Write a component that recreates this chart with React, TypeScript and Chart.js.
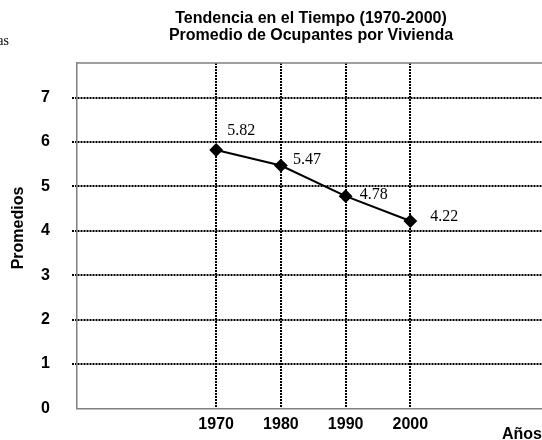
import React, { useEffect, useRef } from "react";
import { Chart, registerables } from "chart.js";

Chart.register(...registerables);

const years = [1970, 1980, 1990, 2000];
const promedios = [5.82, 5.47, 4.78, 4.22];
const yTicks = [0, 1, 2, 3, 4, 5, 6, 7];
const titleLines = ["Tendencia en el Tiempo (1970-2000)", "Promedio de Ocupantes por Vivienda"];
const yTitle = "Promedios";
const xTitle = "Años";
const cornerText = "as";

const SANS = "Arial, 'Liberation Sans', sans-serif";
const SERIF = "'Times New Roman', 'Liberation Serif', serif";

const labelOffsets = [
  [11, -19],
  [12, -6],
  [14, -1],
  [20, -4],
];

const decorPlugin = {
  id: "decor",
  beforeDatasetsDraw(chart: any) {
    const { ctx, chartArea } = chart;
    ctx.save();
    ctx.strokeStyle = "#808080";
    ctx.lineWidth = 1.5;
    ctx.beginPath();
    ctx.moveTo(chartArea.left, chartArea.top);
    ctx.lineTo(chartArea.right, chartArea.top);
    ctx.stroke();
    ctx.restore();
  },
  afterDraw(chart: any) {
    const { ctx } = chart;
    const meta = chart.getDatasetMeta(0);
    ctx.save();
    ctx.fillStyle = "#000";
    ctx.font = `bold 16px ${SANS}`;
    ctx.textAlign = "center";
    ctx.textBaseline = "alphabetic";
    ctx.fillText(titleLines[0], 311, 22.5);
    ctx.fillText(titleLines[1], 311, 40);
    ctx.font = `16px ${SERIF}`;
    ctx.textAlign = "left";
    ctx.textBaseline = "middle";
    meta.data.forEach((pt: any, i: number) => {
      const off = labelOffsets[i] || [12, -5];
      ctx.fillText(promedios[i].toFixed(2), pt.x + off[0], pt.y + off[1]);
    });
    ctx.save();
    ctx.font = `bold 16px ${SANS}`;
    ctx.translate(18.5, 228);
    ctx.rotate(-Math.PI / 2);
    ctx.textAlign = "center";
    ctx.textBaseline = "middle";
    ctx.fillText(yTitle, 0, 0);
    ctx.restore();
    ctx.font = `bold 16px ${SANS}`;
    ctx.textAlign = "left";
    ctx.textBaseline = "alphabetic";
    ctx.fillText(xTitle, 502, 439);
    ctx.font = `14px ${SERIF}`;
    ctx.textAlign = "right";
    ctx.fillText(cornerText, 9, 45);
    ctx.restore();
  },
};

export default function App() {
  const ref = useRef<HTMLCanvasElement | null>(null);

  useEffect(() => {
    if (!ref.current) return;
    const chart = new Chart(ref.current, {
      type: "line",
      data: {
        datasets: [
          {
            data: years.map((y, i) => ({ x: y, y: promedios[i] })),
            borderColor: "#000",
            backgroundColor: "#000",
            borderWidth: 2,
            pointStyle: "rectRot",
            pointRadius: 5.5,
            pointBackgroundColor: "#000",
            pointBorderColor: "#000",
            tension: 0,
          },
        ],
      },
      options: {
        responsive: false,
        animation: false,
        layout: { padding: { top: 63, right: 15, left: 0, bottom: 0 } },
        plugins: { legend: { display: false }, title: { display: false }, tooltip: { enabled: false } },
        scales: {
          x: {
            type: "linear",
            min: 1948.5,
            max: 2020.8,
            afterBuildTicks: (scale: any) => {
              scale.ticks = years.map((v) => ({ value: v }));
            },
            afterFit: (scale: any) => {
              scale.height = 27;
            },
            ticks: {
              color: "#000",
              font: { family: SANS, size: 16, weight: "bold" },
              padding: 7,
              maxRotation: 0,
              autoSkip: false,
              callback: (v: any) => String(v),
            },
            grid: {
              color: "#000",
              lineWidth: 2,
              drawTicks: false,
            },
            border: { color: "#808080", width: 1.5, dash: [2, 1] },
          },
          y: {
            type: "linear",
            min: 0,
            max: 7.78,
            afterBuildTicks: (scale: any) => {
              scale.ticks = yTicks.map((v) => ({ value: v }));
            },
            afterFit: (scale: any) => {
              scale.width = 77;
            },
            ticks: {
              color: "#000",
              font: { family: SANS, size: 16, weight: "bold" },
              padding: 22,
              callback: (v: any) => String(v),
            },
            grid: {
              color: (c: any) => (c.tick && c.tick.value === 0 ? "rgba(0,0,0,0)" : "#000"),
              lineWidth: 2,
              drawTicks: true,
              tickLength: 5,
              tickBorderDash: [2, 1],
            },
            border: { color: "#808080", width: 1.5, dash: [2, 1] },
          },
        },
      },
      plugins: [decorPlugin],
    } as any);
    return () => chart.destroy();
  }, []);

  return (
    <div style={{ position: "absolute", left: 0, top: 0, width: 542, height: 440, overflow: "hidden", background: "#fff" }}>
      <canvas ref={ref} width={560} height={440} style={{ display: "block", width: 560, height: 440 }} />
    </div>
  );
}
